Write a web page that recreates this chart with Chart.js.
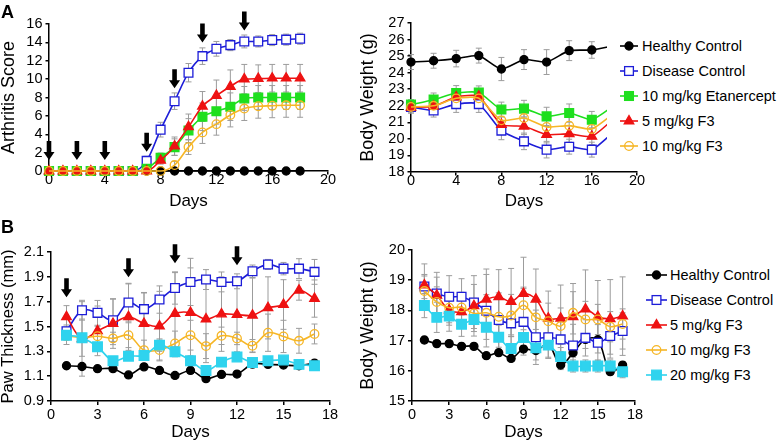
<!DOCTYPE html>
<html>
<head>
<meta charset="utf-8">
<title>Arthritis score, paw thickness and body weight</title>
<script src="https://cdn.jsdelivr.net/npm/chart.js@4.4.0/dist/chart.umd.min.js"></script>
<style>
  html, body { margin: 0; padding: 0; background: #fff; }
  body { width: 778px; height: 442px; position: relative; overflow: hidden; font-family: 'Liberation Sans', Arial, sans-serif; color: #000; }
  .panel { position: absolute; }
  .tag { position: absolute; font-weight: bold; font-size: 18px; line-height: 18px; }
  .legend { position: absolute; background: #fff; font-size: 14.5px; }
  .legend .row { position: absolute; height: 20px; line-height: 20px; white-space: nowrap; }
  .legend svg { position: absolute; left: 0; top: 0; }
  .legend span { position: absolute; top: 0; }
</style>
</head>
<body>
<canvas id="arthritisChart" class="panel" style="left:0;top:0" width="340" height="210"></canvas>
<canvas id="weightChartA" class="panel" style="left:355px;top:0" width="300" height="210"></canvas>
<div id="legendA" class="legend" style="left:607px;top:30px;width:171px;height:135px"></div>
<canvas id="pawChart" class="panel" style="left:0;top:215px" width="345" height="227"></canvas>
<canvas id="weightChartB" class="panel" style="left:355px;top:215px" width="295" height="227"></canvas>
<div id="legendB" class="legend" style="left:640px;top:255px;width:138px;height:130px"></div>
<div class="tag" style="left:1px;top:3px">A</div>
<div class="tag" style="left:1px;top:218px">B</div>

<script>
// --- Data ---

// Panel A, left: arthritis score
const arthDays = [0, 1, 2, 3, 4, 5, 6, 7, 8, 9, 10, 11, 12, 13, 14, 15, 16, 17, 18];
const arthHealthy = [0, 0, 0, 0, 0, 0, 0, 0, 0, 0, 0, 0, 0, 0, 0, 0, 0, 0, 0];
const arthDisease = [0, 0, 0, 0, 0, 0, 0, 1.1, 4.5, 7.6, 10.7, 12.5, 13.3, 13.7, 14.1, 14.1, 14.25, 14.3, 14.4];
const arthEtanercept = [0, 0, 0, 0, 0, 0, 0, 0.25, 1.45, 2.6, 4.4, 5.9, 6.5, 7.0, 7.9, 8.0, 8.0, 8.0, 8.0];
const arth5F3 = [0, 0, 0, 0, 0, 0, 0, 0, 1.15, 2.7, 4.8, 7.05, 8.2, 9.2, 10.0, 10.05, 10.1, 10.1, 10.1];
const arth10F3 = [0, 0, 0, 0, 0, 0, 0, 0, 0, 0.65, 2.6, 4.2, 5.1, 6.1, 6.8, 7.05, 7.1, 7.15, 7.15];
const arthDiseaseErr = [0, 0, 0, 0, 0, 0, 0, 0.5, 0.8, 0.9, 1.0, 0.9, 0.8, 0.6, 0.7, 0.6, 0.6, 0.6, 0.6];
const arthEtanerceptErr = [0, 0, 0, 0, 0, 0, 0, 0.2, 0.5, 0.9, 1.3, 1.5, 1.4, 1.5, 1.3, 1.3, 1.3, 1.3, 1.3];
const arth5F3Err = [0, 0, 0, 0, 0, 0, 0, 0, 0.4, 1.0, 1.4, 1.6, 1.7, 1.8, 1.6, 1.5, 1.5, 1.5, 1.5];
const arth10F3Err = [0, 0, 0, 0, 0, 0, 0, 0, 0, 0.4, 0.8, 1.2, 1.2, 1.3, 1.3, 1.3, 1.3, 1.3, 1.3];
const arthArrowDays = [0, 2, 4, 7, 9, 11, 14];
const arthArrowTips = [1.2, 1.2, 1.2, 2.1, 9.0, 14.0, 15.3];
const arthXTicks = [0, 4, 8, 12, 16, 20];
const arthYTicks = [0, 2, 4, 6, 8, 10, 12, 14, 16];

// Panel A, right: body weight
const bwDaysA = [0, 2, 4, 6, 8, 10, 12, 14, 16, 18];
const bwHealthyA = [24.64, 24.72, 24.85, 25.03, 24.22, 24.79, 24.64, 25.33, 25.37, 25.63];
const bwDiseaseA = [21.93, 21.72, 22.1, 22.1, 20.5, 19.85, 19.35, 19.53, 19.35, 20.46];
const bwEtanerceptA = [22.07, 22.37, 22.77, 22.8, 21.77, 21.83, 21.36, 21.56, 21.16, 22.03];
const bw5F3A = [21.9, 21.97, 22.53, 22.57, 20.86, 20.76, 20.26, 20.3, 20.15, 21.25];
const bw10F3A = [21.93, 22.0, 22.45, 22.45, 21.12, 21.26, 20.72, 20.8, 20.6, 21.57];
const bwHealthyAErr = [0.45, 0.45, 0.5, 0.45, 0.7, 0.6, 0.75, 0.6, 0.5, 0.5];
const bwDiseaseAErr = [0.3, 0.4, 0.5, 0.5, 0.55, 0.5, 0.5, 0.45, 0.45, 0.4];
const bwEtanerceptAErr = [0.3, 0.4, 0.45, 0.4, 0.45, 0.5, 0.55, 0.55, 0.5, 0.5];
const bw5F3AErr = [0.35, 0.4, 0.45, 0.45, 0.5, 0.5, 0.5, 0.5, 0.5, 0.5];
const bw10F3AErr = [0.3, 0.4, 0.4, 0.4, 0.5, 0.5, 0.5, 0.5, 0.5, 0.5];
const bwXTicksA = [0, 4, 8, 12, 16, 20];
const bwYTicksA = [18, 19, 20, 21, 22, 23, 24, 25, 26, 27];

// Panel B, left: paw thickness
const pawDays = [1, 2, 3, 4, 5, 6, 7, 8, 9, 10, 11, 12, 13, 14, 15, 16, 17];
const pawHealthy = [1.184, 1.178, 1.16, 1.16, 1.11, 1.175, 1.146, 1.106, 1.146, 1.08, 1.114, 1.117, 1.197, 1.195, 1.19, 1.184, 1.205];
const pawDisease = [1.462, 1.631, 1.61, 1.55, 1.693, 1.64, 1.717, 1.81, 1.859, 1.878, 1.859, 1.864, 1.945, 2.0, 1.966, 1.966, 1.94];
const paw5F3 = [1.578, 1.40, 1.465, 1.524, 1.578, 1.524, 1.503, 1.604, 1.612, 1.559, 1.6, 1.596, 1.59, 1.65, 1.677, 1.792, 1.725];
const paw10F3 = [1.425, 1.41, 1.422, 1.404, 1.43, 1.31, 1.31, 1.363, 1.43, 1.342, 1.425, 1.404, 1.345, 1.45, 1.42, 1.385, 1.44];
const paw20F3 = [1.43, 1.41, 1.337, 1.224, 1.261, 1.267, 1.35, 1.296, 1.224, 1.146, 1.213, 1.254, 1.21, 1.224, 1.23, 1.195, 1.184];
const pawHealthyErr = [0.02, 0.02, 0.02, 0.02, 0.02, 0.02, 0.02, 0.02, 0.02, 0.02, 0.02, 0.02, 0.02, 0.02, 0.02, 0.02, 0.02];
const pawDiseaseErr = [0.05, 0.08, 0.1, 0.17, 0.15, 0.13, 0.11, 0.13, 0.19, 0.08, 0.08, 0.06, 0.05, 0.04, 0.05, 0.08, 0.1];
const paw5F3Err = [0.09, 0.3, 0.2, 0.2, 0.27, 0.25, 0.28, 0.33, 0.36, 0.35, 0.3, 0.3, 0.3, 0.25, 0.2, 0.08, 0.15];
const paw10F3Err = [0.07, 0.15, 0.08, 0.05, 0.1, 0.08, 0.08, 0.1, 0.12, 0.1, 0.07, 0.05, 0.05, 0.15, 0.13, 0.1, 0.08];
const paw20F3Err = [0.04, 0.03, 0.03, 0.03, 0.03, 0.04, 0.05, 0.04, 0.04, 0.03, 0.03, 0.03, 0.03, 0.03, 0.03, 0.03, 0.03];
const pawArrowDays = [1, 5, 8, 12];
const pawArrowTips = [1.736, 1.897, 2.01, 1.993];
const pawXTicks = [0, 3, 6, 9, 12, 15, 18];
const pawYTicks = [0.9, 1.1, 1.3, 1.5, 1.7, 1.9, 2.1];

// Panel B, right: body weight
const bwDaysB = [1, 2, 3, 4, 5, 6, 7, 8, 9, 10, 11, 12, 13, 14, 15, 16, 17];
const bwHealthyB = [17.02, 16.9, 16.9, 16.81, 16.81, 16.5, 16.6, 16.41, 16.72, 16.67, 16.88, 16.19, 16.6, 17.04, 17.03, 15.97, 16.19];
const bwDiseaseB = [18.79, 18.56, 18.45, 18.45, 18.26, 17.99, 17.68, 17.57, 17.62, 17.11, 17.11, 17.04, 16.84, 17.09, 16.93, 17.15, 17.32];
const bw5F3B = [18.84, 18.5, 18.01, 17.95, 18.15, 18.37, 18.45, 18.29, 18.56, 18.37, 17.74, 17.74, 17.79, 18.04, 17.79, 17.72, 17.81];
const bw10F3B = [18.64, 18.28, 18.09, 18.1, 17.9, 17.92, 17.79, 17.83, 18.17, 17.77, 17.64, 17.48, 17.92, 17.7, 17.7, 17.46, 17.55];
const bw20F3B = [18.16, 17.77, 17.81, 17.54, 17.7, 17.44, 17.11, 16.74, 17.1, 16.76, 16.85, 16.47, 16.16, 16.16, 16.16, 16.16, 15.97];
const bwHealthyBErr = [0.1, 0.1, 0.1, 0.1, 0.1, 0.1, 0.1, 0.1, 0.1, 0.1, 0.1, 0.15, 0.15, 0.1, 0.1, 0.1, 0.1];
const bwDiseaseBErr = [0.4, 0.7, 0.7, 0.6, 0.6, 1.2, 0.9, 0.8, 1.1, 0.9, 0.7, 0.6, 0.7, 0.6, 0.6, 0.6, 0.6];
const bw5F3BErr = [0.7, 0.6, 0.5, 0.5, 1.0, 1.0, 0.9, 1.1, 1.2, 1.0, 0.9, 1.1, 1.1, 1.3, 1.2, 1.3, 1.3];
const bw10F3BErr = [0.5, 0.5, 0.5, 0.5, 0.5, 0.6, 0.6, 0.7, 0.6, 0.6, 0.6, 0.6, 0.7, 0.6, 0.5, 0.5, 0.5];
const bw20F3BErr = [0.4, 0.5, 0.5, 0.4, 0.4, 0.4, 0.4, 0.4, 0.4, 0.4, 0.4, 0.3, 0.2, 0.2, 0.2, 0.2, 0.2];
const bwXTicksB = [0, 3, 6, 9, 12, 15, 18];
const bwYTicksB = [15, 16, 17, 18, 19, 20];

const seriesNamesA = ['Healthy Control', 'Disease Control', '10 mg/kg Etanercept', '5 mg/kg F3', '10 mg/kg F3'];
const seriesNamesB = ['Healthy Control', 'Disease Control', '5 mg/kg F3', '10 mg/kg F3', '20 mg/kg F3'];

// --- Series styles ---
const STYLE = {
    healthy: { color: '#000000', point: 'circle', radius: 4, fill: '#000000' },
    disease: { color: '#1d1dd8', point: 'rect', radius: 6.2, fill: '#ffffff' },
    etanercept: { color: '#1edf1e', point: 'rect', radius: 6.2, fill: '#1edf1e' },
    f5: { color: '#ee1212', point: 'triangle', radius: 5.5, fill: '#ee1212' },
    f10: { color: '#f6b626', point: 'circle', radius: 4.3, fill: 'rgba(255,255,255,0)' },
    f20: { color: '#2fd3ee', point: 'rect', radius: 6.8, fill: '#2fd3ee' }
};

function series(label, days, values, errors, style, order, tension) {
    return {
        label: label,
        data: days.map((d, i) => ({ x: d, y: values[i] })),
        errors: errors,
        borderColor: style.color,
        borderWidth: 1.6,
        pointStyle: style.point,
        pointRadius: style.radius,
        pointHoverRadius: style.radius,
        pointBackgroundColor: style.fill,
        pointBorderColor: style.color,
        pointBorderWidth: 1.3,
        tension: tension,
        order: order,
        clip: false
    };
}

// --- Axis helper: fixed box sizes so the four plots line up ---
function axis(o) {
    return {
        type: 'linear',
        position: o.position,
        min: o.ticks[0],
        max: o.ticks[o.ticks.length - 1],
        afterBuildTicks: function (scale) {
            scale.ticks = o.ticks.map(v => ({ value: v }));
        },
        afterFit: function (scale) {
            if (o.position === 'bottom') scale.height = o.size;
            else scale.width = o.size;
        },
        border: { color: '#000', width: 1.5 },
        grid: { drawOnChartArea: false, color: '#000', lineWidth: 1.5, tickLength: o.tickLength },
        ticks: {
            color: '#000',
            padding: o.padding,
            autoSkip: false,
            maxRotation: 0,
            font: { size: 14.5, lineHeight: 1 },
            callback: v => o.decimals ? v.toFixed(o.decimals) : v
        },
        title: {
            display: true,
            text: o.title,
            color: '#000',
            font: { size: o.titleSize, lineHeight: 1 },
            padding: { top: o.titlePad, bottom: o.titlePad }
        }
    };
}

// --- Plugins: grey error bars and the black dosing arrows ---
const errorBars = {
    id: 'errorBars',
    beforeDatasetsDraw(chart) {
        const { ctx, scales: { x, y } } = chart;
        ctx.save();
        ctx.strokeStyle = '#9c9c9c';
        ctx.lineWidth = 1;
        chart.data.datasets.forEach(ds => {
            if (!ds.errors) return;
            ds.data.forEach((p, i) => {
                const e = ds.errors[i];
                if (!e) return;
                const px = x.getPixelForValue(p.x);
                const top = y.getPixelForValue(p.y + e);
                const bot = y.getPixelForValue(p.y - e);
                ctx.beginPath();
                ctx.moveTo(px, top); ctx.lineTo(px, bot);
                ctx.moveTo(px - 3, top); ctx.lineTo(px + 3, top);
                ctx.moveTo(px - 3, bot); ctx.lineTo(px + 3, bot);
                ctx.stroke();
            });
        });
        ctx.restore();
    }
};

function dosingArrows(days, tips) {
    return {
        id: 'dosingArrows',
        afterDatasetsDraw(chart) {
            const { ctx, scales: { x, y } } = chart;
            ctx.save();
            ctx.fillStyle = '#000';
            days.forEach((d, i) => {
                const px = x.getPixelForValue(d);
                const py = y.getPixelForValue(tips[i]);
                ctx.beginPath();
                ctx.moveTo(px, py);
                ctx.lineTo(px - 5.5, py - 8);
                ctx.lineTo(px - 2.3, py - 8);
                ctx.lineTo(px - 2.3, py - 19);
                ctx.lineTo(px + 2.3, py - 19);
                ctx.lineTo(px + 2.3, py - 8);
                ctx.lineTo(px + 5.5, py - 8);
                ctx.closePath();
                ctx.fill();
            });
            ctx.restore();
        }
    };
}

function makeChart(id, datasets, xAxis, yAxis, padding, extraPlugins) {
    return new Chart(document.getElementById(id), {
        type: 'line',
        data: { datasets: datasets },
        options: {
            responsive: false,
            animation: false,
            layout: { padding: padding },
            scales: { x: xAxis, y: yAxis },
            plugins: { legend: { display: false }, tooltip: { enabled: false } }
        },
        plugins: [errorBars].concat(extraPlugins || [])
    });
}

// --- HTML legends (sample line + marker + text) ---
function markerSvg(s, cx, cy) {
    const common = `fill="${s.fill}" stroke="${s.color}" stroke-width="1.3"`;
    if (s.point === 'circle') return `<circle cx="${cx}" cy="${cy}" r="${s.radius}" ${common}/>`;
    if (s.point === 'rect') {
        const h = s.radius * Math.SQRT1_2;
        return `<rect x="${cx - h}" y="${cy - h}" width="${2 * h}" height="${2 * h}" ${common}/>`;
    }
    const r = s.radius;
    return `<polygon points="${cx},${cy - r} ${cx + 0.866 * r},${cy + r / 2} ${cx - 0.866 * r},${cy + r / 2}" ${common}/>`;
}

function buildLegend(el, names, styles, geo) {
    names.forEach((name, i) => {
        const s = styles[i];
        const row = document.createElement('div');
        row.className = 'row';
        row.style.left = geo.left + 'px';
        row.style.top = (geo.first + i * geo.step - 10) + 'px';
        row.innerHTML =
            `<svg width="${geo.lineW}" height="20">` +
            `<line x1="0" y1="10" x2="${geo.lineW}" y2="10" stroke="${s.color}" stroke-width="1.6"/>` +
            markerSvg(s, geo.lineW / 2, 10) +
            `</svg><span style="left:${geo.textX}px">${name}</span>`;
        el.appendChild(row);
    });
}

document.addEventListener('DOMContentLoaded', function () {

    Chart.defaults.font.family = "'Liberation Sans', Arial, sans-serif";
    Chart.defaults.color = '#000';

    // --- A, left: arthritis score ---
    makeChart('arthritisChart', [
        series(seriesNamesA[0], arthDays, arthHealthy, null, STYLE.healthy, 5, 0),
        series(seriesNamesA[1], arthDays, arthDisease, arthDiseaseErr, STYLE.disease, 4, 0),
        series(seriesNamesA[2], arthDays, arthEtanercept, arthEtanerceptErr, STYLE.etanercept, 3, 0),
        series(seriesNamesA[3], arthDays, arth5F3, arth5F3Err, STYLE.f5, 2, 0),
        series(seriesNamesA[4], arthDays, arth10F3, arth10F3Err, STYLE.f10, 1, 0)
    ].map(ds => Object.assign(ds, { cubicInterpolationMode: 'monotone' })),
        axis({ position: 'bottom', ticks: arthXTicks, size: 39, tickLength: 3.5, padding: -2, title: 'Days', titleSize: 17, titlePad: 0.5 }),
        axis({ position: 'left', ticks: arthYTicks, size: 49, tickLength: 3.5, padding: 3, title: 'Arthritis Score', titleSize: 18, titlePad: 0 }),
        { left: 0, top: 24, right: 12, bottom: 0 },
        [dosingArrows(arthArrowDays, arthArrowTips)]);

    // --- A, right: body weight ---
    makeChart('weightChartA', [
        series(seriesNamesA[0], bwDaysA, bwHealthyA, bwHealthyAErr, STYLE.healthy, 5, 0.2),
        series(seriesNamesA[1], bwDaysA, bwDiseaseA, bwDiseaseAErr, STYLE.disease, 4, 0.2),
        series(seriesNamesA[2], bwDaysA, bwEtanerceptA, bwEtanerceptAErr, STYLE.etanercept, 3, 0.2),
        series(seriesNamesA[3], bwDaysA, bw5F3A, bw5F3AErr, STYLE.f5, 2, 0.2),
        series(seriesNamesA[4], bwDaysA, bw10F3A, bw10F3AErr, STYLE.f10, 1, 0.2)
    ],
        axis({ position: 'bottom', ticks: bwXTicksA, size: 38, tickLength: 3.5, padding: -2, title: 'Days', titleSize: 17, titlePad: 0.5 }),
        axis({ position: 'left', ticks: bwYTicksA, size: 56, tickLength: 3.5, padding: 3, title: 'Body Weight (g)', titleSize: 18, titlePad: 4 }),
        { left: 0, top: 23, right: 18, bottom: 0 });

    // --- B, left: paw thickness ---
    makeChart('pawChart', [
        series(seriesNamesB[0], pawDays, pawHealthy, pawHealthyErr, STYLE.healthy, 5, 0.35),
        series(seriesNamesB[1], pawDays, pawDisease, pawDiseaseErr, STYLE.disease, 4, 0.35),
        series(seriesNamesB[2], pawDays, paw5F3, paw5F3Err, STYLE.f5, 3, 0.35),
        series(seriesNamesB[3], pawDays, paw10F3, paw10F3Err, STYLE.f10, 2, 0.35),
        series(seriesNamesB[4], pawDays, paw20F3, paw20F3Err, STYLE.f20, 1, 0.35)
    ],
        axis({ position: 'bottom', ticks: pawXTicks, size: 41, tickLength: 4, padding: 3, title: 'Days', titleSize: 17, titlePad: 1.5 }),
        axis({ position: 'left', ticks: pawYTicks, size: 51, tickLength: 4, padding: 3, title: 'Paw Thickness (mm)', titleSize: 16.5, titlePad: 0.5, decimals: 1 }),
        { left: 0, top: 37, right: 15, bottom: 0 },
        [dosingArrows(pawArrowDays, pawArrowTips)]);

    // --- B, right: body weight ---
    makeChart('weightChartB', [
        series(seriesNamesB[0], bwDaysB, bwHealthyB, bwHealthyBErr, STYLE.healthy, 5, 0.35),
        series(seriesNamesB[1], bwDaysB, bwDiseaseB, bwDiseaseBErr, STYLE.disease, 4, 0.35),
        series(seriesNamesB[2], bwDaysB, bw5F3B, bw5F3BErr, STYLE.f5, 3, 0.35),
        series(seriesNamesB[3], bwDaysB, bw10F3B, bw10F3BErr, STYLE.f10, 2, 0.35),
        series(seriesNamesB[4], bwDaysB, bw20F3B, bw20F3BErr, STYLE.f20, 1, 0.35)
    ],
        axis({ position: 'bottom', ticks: bwXTicksB, size: 41, tickLength: 4, padding: 3, title: 'Days', titleSize: 17, titlePad: 1.5 }),
        axis({ position: 'left', ticks: bwYTicksB, size: 57, tickLength: 4, padding: 3, title: 'Body Weight (g)', titleSize: 18, titlePad: 4.5 }),
        { left: 0, top: 35, right: 15, bottom: 0 });

    // --- Legends (the first one also hides the day-18 ends of panel A right) ---
    buildLegend(document.getElementById('legendA'), seriesNamesA,
        [STYLE.healthy, STYLE.disease, STYLE.etanercept, STYLE.f5, STYLE.f10],
        { left: 13, first: 16, step: 25, lineW: 18, textX: 22 });
    buildLegend(document.getElementById('legendB'), seriesNamesB,
        [STYLE.healthy, STYLE.disease, STYLE.f5, STYLE.f10, STYLE.f20],
        { left: 6, first: 20, step: 25, lineW: 21, textX: 24 });
});
</script>
</body>
</html>
